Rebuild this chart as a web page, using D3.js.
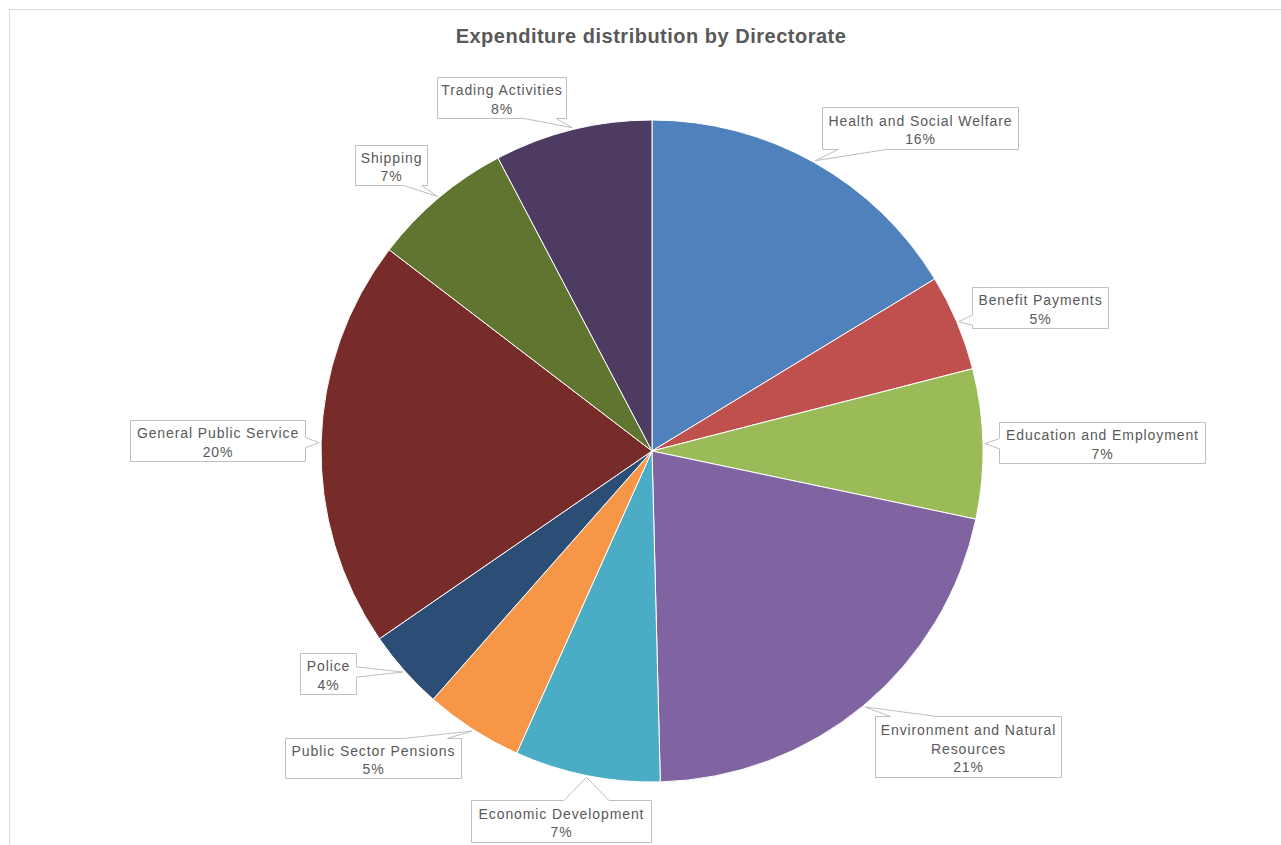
<!DOCTYPE html>
<html>
<head>
<meta charset="utf-8">
<script src="https://cdn.jsdelivr.net/npm/d3@7"></script>
<style>
  body { margin: 0; background: #fff; }
  text { font-family: "Liberation Sans", Arial, sans-serif; fill: #595959; }
</style>
</head>
<body>
<div id="chart"></div>
<script>
// data
var categories = ["Health and Social Welfare", "Benefit Payments", "Education and Employment",
  "Environment and Natural Resources", "Economic Development", "Public Sector Pensions",
  "Police", "General Public Service", "Shipping", "Trading Activities"];
var values = [16.3, 4.7, 7.3, 21.3, 7.1, 4.8, 3.9, 20.0, 6.9, 7.7];
var colors = ["#4F81BD", "#C0504D", "#9BBB59", "#8064A2", "#4BACC6",
  "#F79646", "#2C4D75", "#772C2A", "#5F7530", "#4D3B62"];
// label text lines (Environment wraps in the box)
var labelLines = [["Health and Social Welfare"], ["Benefit Payments"], ["Education and Employment"],
  ["Environment and Natural", "Resources"], ["Economic Development"], ["Public Sector Pensions"],
  ["Police"], ["General Public Service"], ["Shipping"], ["Trading Activities"]];
// callout boxes: x0, y0, x1, y1
var boxes = [[822, 107, 1018, 149], [972, 287, 1108, 328], [999, 422, 1205, 463],
  [875, 716, 1061, 777], [471, 800, 651, 842], [285, 738, 461, 778],
  [300, 653, 356, 694], [130, 420, 305, 461], [355, 145, 427, 185], [437, 77, 566, 118]];

var W = 1281, H = 845;
var cx = 652, cy = 451, R = 331;

var svg = d3.select("#chart").append("svg")
  .attr("width", W).attr("height", H);

svg.append("rect")
  .attr("x", 9.5).attr("y", 9.5)
  .attr("width", W + 10).attr("height", H + 10)
  .attr("fill", "#fff").attr("stroke", "#d9d9d9");

svg.append("text")
  .attr("x", 651).attr("y", 43)
  .attr("text-anchor", "middle")
  .style("font-size", "20px").style("font-weight", "bold")
  .style("letter-spacing", "0.5px")
  .text("Expenditure distribution by Directorate");

var total = d3.sum(values);
var pie = d3.pie().sort(null).value(function(d) { return d; });
var arcs = pie(values);
var arc = d3.arc().innerRadius(0).outerRadius(R);

var g = svg.append("g").attr("transform", "translate(" + cx + "," + cy + ")");
g.selectAll("path")
  .data(arcs)
  .enter()
  .append("path")
    .attr("d", arc)
    .attr("fill", function(d, i) { return colors[i]; })
    .attr("stroke", "#fff")
    .attr("stroke-width", 1);

// callout path: rectangle with a wedge pointing at (ax, ay)
function callout(b, ax, ay) {
  var x0 = b[0] + 0.5, y0 = b[1] + 0.5, x1 = b[2] + 0.5, y1 = b[3] + 0.5;
  var side;
  if (ay > y1) side = "bottom";
  else if (ay < y0) side = "top";
  else if (ax < x0) side = "left";
  else side = "right";
  if ((side == "bottom" || side == "top") && (ax < x0 - 15 || ax > x1 + 15)) {
    var dy = side == "bottom" ? ay - y1 : y0 - ay;
    var dx = ax < x0 ? x0 - ax : ax - x1;
    if (dx > dy * 1.5) side = ax < x0 ? "left" : "right";
  }
  function base(lo, hi, p) {
    var len = hi - lo;
    var bw = Math.max(10, Math.min(48, len * 0.25));
    var c = Math.max(lo + len * 0.08 + bw / 2, Math.min(hi - len * 0.08 - bw / 2, p));
    return [c - bw / 2, c + bw / 2];
  }
  var p = [];
  if (side == "bottom") {
    var s = base(x0, x1, ax);
    p = [[x0, y0], [x1, y0], [x1, y1], [s[1], y1], [ax, ay], [s[0], y1], [x0, y1]];
  } else if (side == "top") {
    var s = base(x0, x1, ax);
    p = [[x0, y0], [s[0], y0], [ax, ay], [s[1], y0], [x1, y0], [x1, y1], [x0, y1]];
  } else if (side == "left") {
    var s = base(y0, y1, ay);
    p = [[x0, y0], [x1, y0], [x1, y1], [x0, y1], [x0, s[1]], [ax, ay], [x0, s[0]]];
  } else {
    var s = base(y0, y1, ay);
    p = [[x0, y0], [x1, y0], [x1, s[0]], [ax, ay], [x1, s[1]], [x1, y1], [x0, y1]];
  }
  return "M" + p.map(function(q) { return q.join(","); }).join("L") + "Z";
}

var labels = svg.append("g");
arcs.forEach(function(d, i) {
  var mid = (d.startAngle + d.endAngle) / 2;
  var ax = cx + (R + 2) * Math.sin(mid);
  var ay = cy - (R + 2) * Math.cos(mid);
  var b = boxes[i];
  labels.append("path")
    .attr("d", callout(b, ax, ay))
    .attr("fill", "#fff")
    .attr("stroke", "#bfbfbf")
    .attr("stroke-width", 1);
  var lines = labelLines[i].concat([Math.round(d.value / total * 100) + "%"]);
  var mx = (b[0] + b[2]) / 2;
  var my = (b[1] + b[3]) / 2;
  var lh = 18.5;
  lines.forEach(function(t, k) {
    labels.append("text")
      .attr("x", mx + 0.5)
      .attr("y", my + (k - (lines.length - 1) / 2) * lh + 7)
      .attr("text-anchor", "middle")
      .style("font-size", "14px")
      .style("letter-spacing", "0.9px")
      .text(t);
  });
});
</script>
</body>
</html>
